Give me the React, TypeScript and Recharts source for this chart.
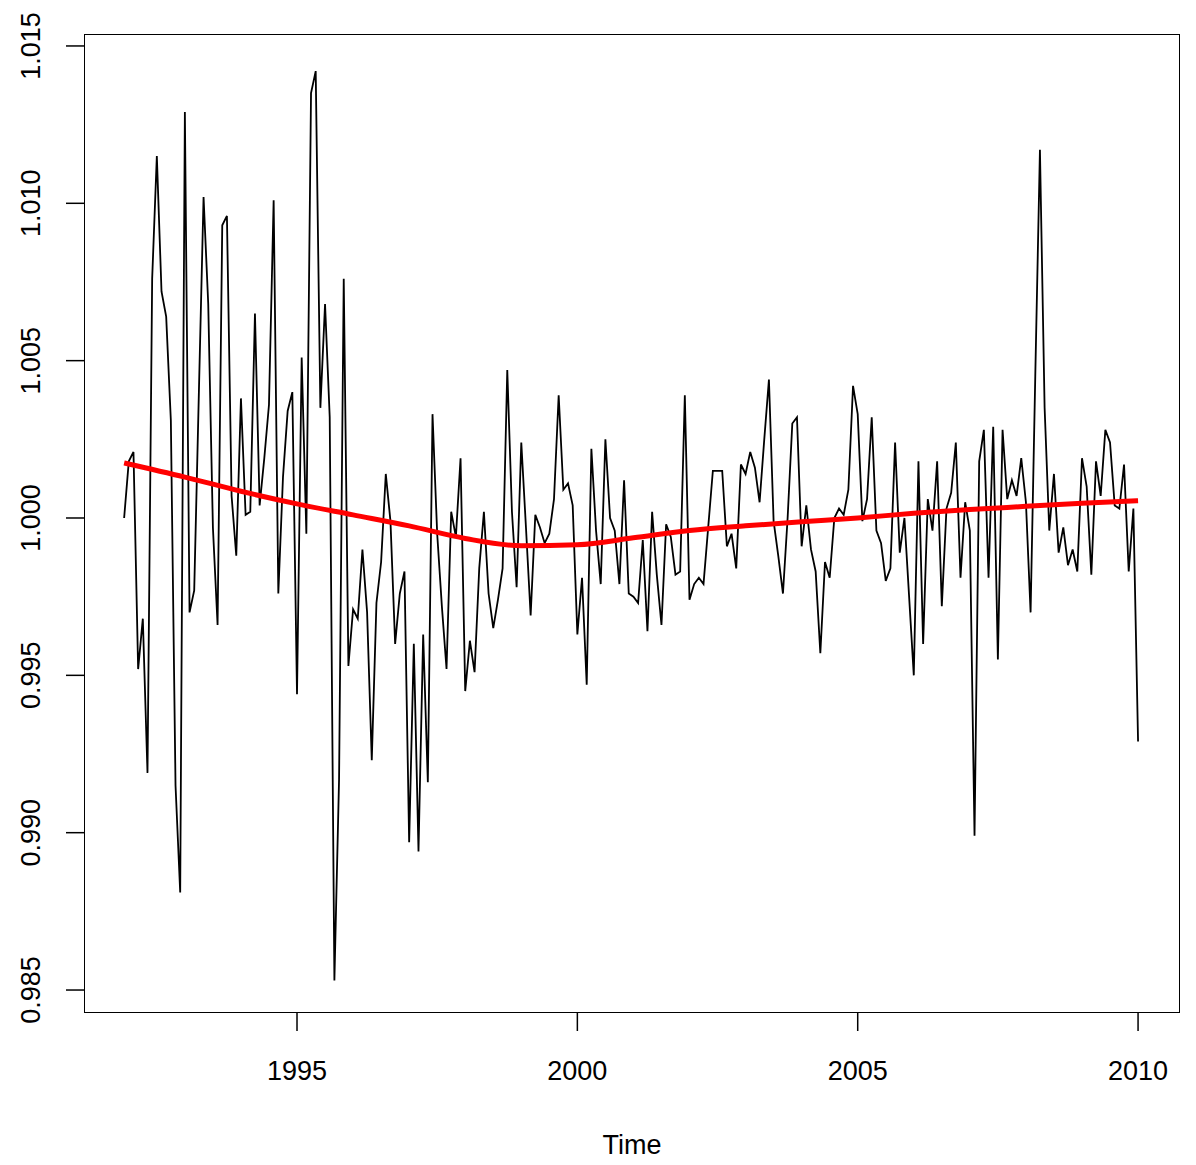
import React from "react";
import { ComposedChart, Line, XAxis, YAxis } from "recharts";

const startYear = 1991 + 11 / 12;
const seriesValues: number[] = [
  1.0000, 1.0018, 1.0021, 0.9952, 0.9968, 0.9919, 1.0076, 1.0115, 1.0072, 1.0064,
  1.0031, 0.9915, 0.9881, 1.0129, 0.9970, 0.9977, 1.0040, 1.0102, 1.0068, 0.9997,
  0.9966, 1.0093, 1.0096, 1.0007, 0.9988, 1.0038, 1.0001, 1.0002, 1.0065, 1.0004,
  1.0019, 1.0036, 1.0101, 0.9976, 1.0013, 1.0034, 1.0040, 0.9944, 1.0051, 0.9995,
  1.0135, 1.0142, 1.0035, 1.0068, 1.0032, 0.9853, 0.9917, 1.0076, 0.9953, 0.9971,
  0.9968, 0.9990, 0.9970, 0.9923, 0.9973, 0.9986, 1.0014, 0.9999, 0.9960, 0.9976,
  0.9983, 0.9897, 0.9960, 0.9894, 0.9963, 0.9916, 1.0033, 0.9995, 0.9972, 0.9952,
  1.0002, 0.9994, 1.0019, 0.9945, 0.9961, 0.9951, 0.9984, 1.0002, 0.9976, 0.9965,
  0.9974, 0.9984, 1.0047, 1.0002, 0.9978, 1.0024, 0.9997, 0.9969, 1.0001, 0.9997,
  0.9992, 0.9995, 1.0006, 1.0039, 1.0009, 1.0011, 1.0004, 0.9963, 0.9981, 0.9947,
  1.0022, 0.9996, 0.9979, 1.0025, 1.0000, 0.9996, 0.9979, 1.0012, 0.9976, 0.9975,
  0.9973, 0.9993, 0.9964, 1.0002, 0.9982, 0.9966, 0.9998, 0.9994, 0.9982, 0.9983,
  1.0039, 0.9974, 0.9979, 0.9981, 0.9979, 0.9997, 1.0015, 1.0015, 1.0015, 0.9991,
  0.9995, 0.9984, 1.0017, 1.0014, 1.0021, 1.0016, 1.0005, 1.0025, 1.0044, 0.9999,
  0.9988, 0.9976, 1.0000, 1.0030, 1.0032, 0.9991, 1.0004, 0.9990, 0.9983, 0.9957,
  0.9986, 0.9981, 1.0000, 1.0003, 1.0001, 1.0009, 1.0042, 1.0033, 0.9999, 1.0006,
  1.0032, 0.9996, 0.9992, 0.9980, 0.9984, 1.0024, 0.9989, 1.0000, 0.9975, 0.9950,
  1.0018, 0.9960, 1.0006, 0.9996, 1.0018, 0.9972, 1.0003, 1.0008, 1.0024, 0.9981,
  1.0005, 0.9996, 0.9899, 1.0018, 1.0028, 0.9981, 1.0029, 0.9955, 1.0028, 1.0006,
  1.0012, 1.0007, 1.0019, 1.0005, 0.9970, 1.0045, 1.0117, 1.0035, 0.9996, 1.0014,
  0.9989, 0.9997, 0.9985, 0.9990, 0.9983, 1.0019, 1.0010, 0.9982, 1.0018, 1.0007,
  1.0028, 1.0024, 1.0004, 1.0003, 1.0017, 0.9983, 1.0003, 0.9929,
];
const trendYears = [1991.917, 1993, 1994, 1995, 1996, 1997, 1998, 1999, 2000, 2001, 2002, 2003, 2004, 2005, 2006, 2007, 2008, 2009, 2010];
const trendValues = [1.00175, 1.0013, 1.00085, 1.00045, 1.0001, 0.99975, 0.99935, 0.99912, 0.99915, 0.99937, 0.9996, 0.99975, 0.99988, 1.0, 1.00015, 1.00027, 1.00037, 1.00047, 1.00055];
const xTicks = [1995, 2000, 2005, 2010];
const yTicks = [0.985, 0.99, 0.995, 1.0, 1.005, 1.01, 1.015];

const seriesData = seriesValues.map((v, i) => ({ t: startYear + i / 12, v }));
const trendData = trendYears.map((t, i) => ({ t, r: trendValues[i] }));

const font = "'Liberation Sans', Arial, sans-serif";

const YTick = (p: any) => {
  const { x, y, payload } = p;
  return (
    <text x={0} y={0} transform={`translate(${x - 24},${y}) rotate(-90)`} textAnchor="middle" fontSize={27} fontFamily={font} fill="#000">
      {payload.value.toFixed(3)}
    </text>
  );
};
const XTick = (p: any) => {
  const { x, y, payload } = p;
  return (
    <text x={x} y={y + 47} textAnchor="middle" fontSize={27} fontFamily={font} fill="#000">
      {payload.value}
    </text>
  );
};

export default function App() {
  return (
    <div style={{ position: "absolute", left: 0, top: 0, width: 1196, height: 1165, background: "#fff" }}>
      <ComposedChart width={1196} height={1165} margin={{ left: 24, top: 34, right: 16, bottom: 92 }}>
        <XAxis dataKey="t" type="number" domain={[1991.201, 2010.748]} ticks={xTicks} allowDataOverflow
          axisLine={false} tickSize={18} tickLine={{ stroke: "#000", strokeWidth: 1.5 }} tick={<XTick />} height={60} />
        <YAxis type="number" domain={[0.98427, 1.01538]} ticks={yTicks} allowDataOverflow
          axisLine={false} tickSize={18} tickLine={{ stroke: "#000", strokeWidth: 1.5 }} tick={<YTick />} width={60} />
        <Line data={seriesData} dataKey="v" stroke="#000" strokeWidth={1.8} dot={false} isAnimationActive={false} />
        <Line data={trendData} dataKey="r" type="monotone" stroke="#ff0000" strokeWidth={5} dot={false} isAnimationActive={false} />
      </ComposedChart>
      <div style={{ position: "absolute", left: 84, top: 34, width: 1096, height: 979, border: "1.5px solid #000", boxSizing: "border-box", pointerEvents: "none" }} />
      <div style={{ position: "absolute", left: 297, top: 1012, width: 841, height: 0, borderTop: "1.5px solid #000" }} />
      <div style={{ position: "absolute", left: 0, width: 1264, top: 1130, textAlign: "center", fontSize: 27, fontFamily: font }}>Time</div>
    </div>
  );
}
